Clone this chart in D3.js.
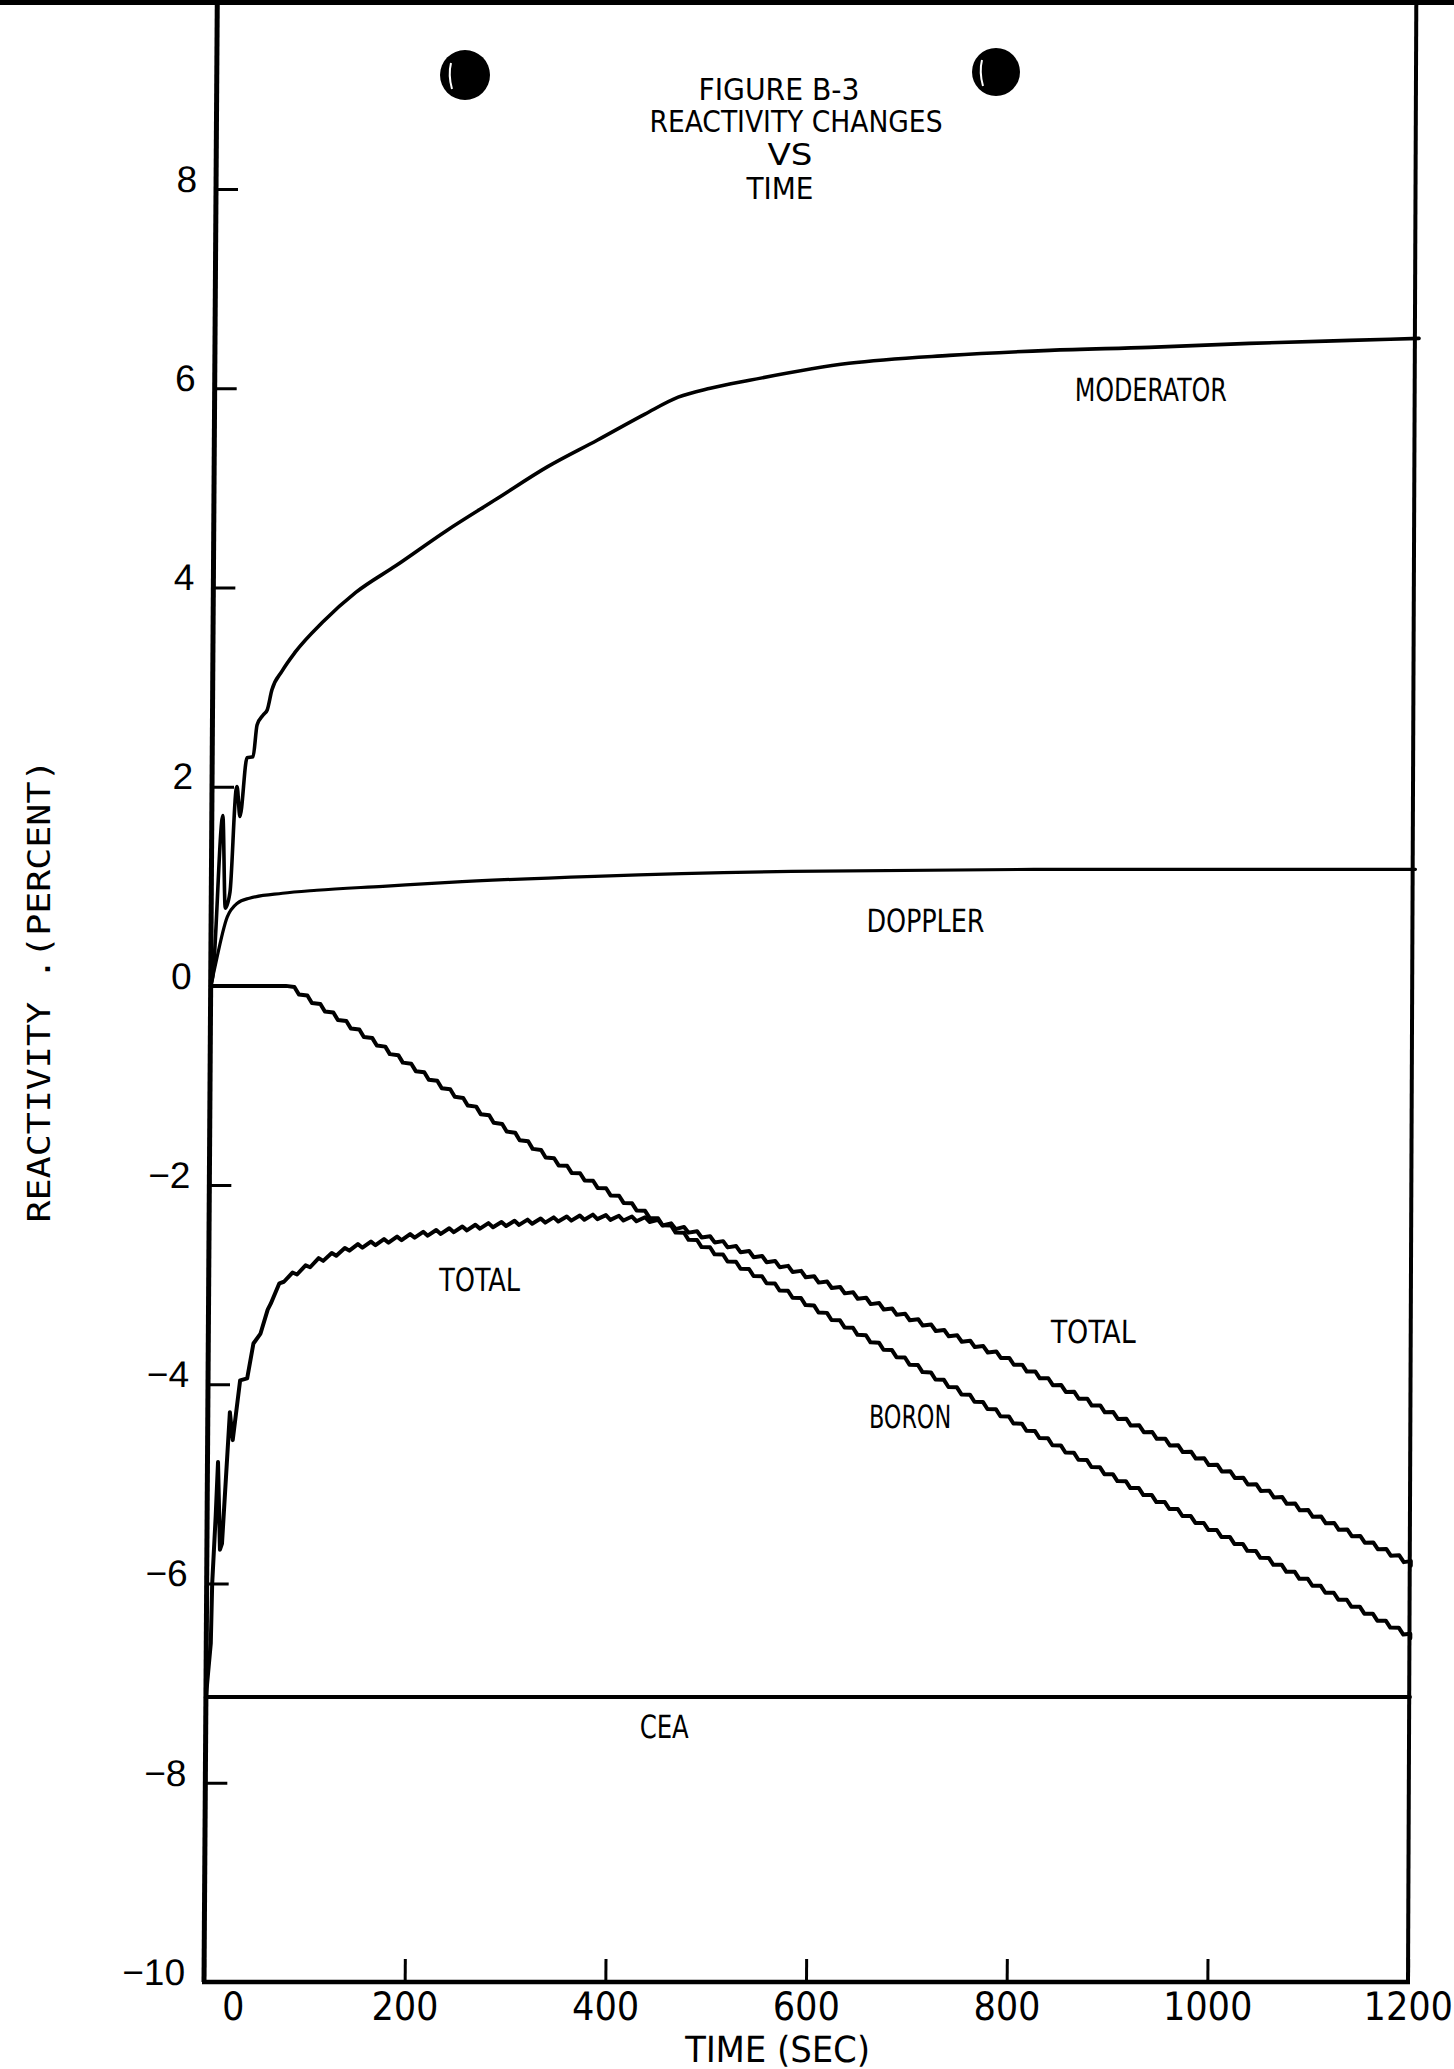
<!DOCTYPE html>
<html lang="en">
<head>
<meta charset="utf-8">
<title>Figure B-3 Reactivity Changes vs Time</title>
<script src="https://d3js.org/d3.v7.min.js"></script>
<style>
  body { margin: 0; background: #fff; }
  svg { display: block; }
  .plot text { fill: #000; }
</style>
</head>
<body>
<script>
// time (sec) vs reactivity (percent)
var moderator = [[0, 0], [2, 0.09], [11, 1.71], [14, 0.78], [18.6, 0.94], [24, 1.97], [25, 2.0],
  [28, 1.70], [34.7, 2.29], [40.7, 2.30], [44.5, 2.62], [50.5, 2.72], [54.5, 2.77], [59, 2.97],
  [69, 3.16], [82, 3.35], [109, 3.65], [142, 3.95], [182, 4.22], [232, 4.57], [282, 4.89],
  [332, 5.21], [382, 5.48], [429, 5.74], [462, 5.91], [494, 6.0], [533, 6.08], [632, 6.25],
  [732, 6.33], [832, 6.38], [931, 6.41], [1031, 6.45], [1131, 6.48], [1200, 6.50]];

var doppler = [[0, 0], [2, 0.09], [16, 0.69], [26, 0.83], [38, 0.88], [71, 0.93], [105, 0.96],
  [171, 1.00], [237, 1.04], [382, 1.10], [578, 1.15], [841, 1.17], [1200, 1.17]];

var boron = [[0, 0], [75, 0], [239, -1.08], [339, -1.75], [446, -2.37], [589, -3.17],
  [756, -4.13], [890, -4.88], [1200, -6.55]];

var total = [[0, -7.14], [2, -6.9], [4.5, -6.6], [5.5, -6.0], [8.5, -5.33], [10.5, -4.78],
  [13, -5.66], [15, -5.6], [22, -4.28], [25, -4.56], [32, -3.96], [39, -3.94], [45, -3.59],
  [52, -3.49], [59, -3.25], [69, -3.05], [75, -2.97], [109, -2.78], [142, -2.65], [209, -2.52],
  [275, -2.43], [342, -2.37], [384, -2.34], [439, -2.37], [479, -2.48], [589, -2.90],
  [789, -3.73], [890, -4.26], [970, -4.67], [1200, -5.82]];

var cea = [[0, -7.14], [1200, -7.14]];

var xTicks = [0, 200, 400, 600, 800, 1000, 1200];
var yTicks = [-10, -8, -6, -4, -2, 0, 2, 4, 6, 8];
var titleLines = ["FIGURE B-3", "REACTIVITY CHANGES", "VS", "TIME"];
var xTitle = "TIME (SEC)";
var yTitle = "REACTIVITY .(PERCENT)";

var w = 1454, h = 2069;
var narrow = "'Liberation Sans Narrow', 'DejaVu Sans Condensed', 'Liberation Sans', sans-serif";

var svg = d3.select("body")
    .append("svg")
    .attr("width", w)
    .attr("height", h);

svg.append("rect").attr("width", w).attr("height", h).attr("fill", "#fff");

// scale
var x = d3.scaleLinear().domain([0, 1200]).range([204, 1408]);
var y = d3.scaleLinear().domain([-10, 8]).range([1982, 189]);

// the scanned page is slightly sheared, lean the whole plot with it
var plot = svg.append("g")
    .attr("class", "plot")
    .attr("transform", "translate(0,1982) skewX(-0.384) translate(0,-1982)");

// frame
plot.append("line")
    .attr("x1", x(0)).attr("x2", x(0)).attr("y1", -10).attr("y2", y(-10))
    .attr("stroke", "#000").attr("stroke-width", 5);
plot.append("line")
    .attr("x1", x(1200)).attr("x2", x(1200) - 5).attr("y1", y(-10)).attr("y2", -10)
    .attr("stroke", "#000").attr("stroke-width", 4);
plot.append("line")
    .attr("x1", x(0) - 2).attr("x2", x(1200) + 2).attr("y1", y(-10)).attr("y2", y(-10))
    .attr("stroke", "#000").attr("stroke-width", 4.5);

// axes
var xAxis = plot.append("g")
    .attr("transform", "translate(0," + y(-10) + ")")
    .call(d3.axisBottom(x).tickValues(xTicks).tickFormat(d3.format("d"))
        .tickSizeInner(-23).tickSizeOuter(0).tickPadding(38));
xAxis.select(".domain").remove();
xAxis.selectAll("line").attr("stroke-width", 3);
xAxis.selectAll("text")
    .attr("dy", "0")
    .attr("dx", function(d) { return d === 0 ? 29 : 0; })
    .style("font-family", narrow)
    .style("font-size", "39px");

var yAxis = plot.append("g")
    .attr("transform", "translate(" + x(0) + ",0)")
    .call(d3.axisLeft(y).tickValues(yTicks).tickSizeInner(-22).tickSizeOuter(0).tickPadding(19));
yAxis.select(".domain").remove();
yAxis.selectAll("line").attr("stroke-width", 3);
yAxis.selectAll("text")
    .attr("dy", "0.06em")
    .style("font-family", "'Liberation Sans', Arial, sans-serif")
    .style("font-size", "37px");

// stepped trace: the slow ramps were plotted as small teeth
function curveTeeth(fromX, period, amp) {
  return function(context) {
    var pts;
    return {
      areaStart: function() {},
      areaEnd: function() {},
      lineStart: function() { pts = []; },
      point: function(px, py) { pts.push([+px, +py]); },
      lineEnd: function() {
        var at = function(px) {
          for (var i = 1; i < pts.length; i++) {
            if (px <= pts[i][0]) {
              var a = pts[i - 1], b = pts[i];
              return a[1] + (b[1] - a[1]) * (px - a[0]) / (b[0] - a[0]);
            }
          }
          return pts[pts.length - 1][1];
        };
        var end = pts[pts.length - 1][0];
        context.moveTo(pts[0][0], pts[0][1]);
        pts.forEach(function(p, i) {
          if (i > 0 && p[0] < fromX) context.lineTo(p[0], p[1]);
        });
        context.lineTo(fromX, at(fromX));
        for (var x0 = fromX; x0 < end - 0.5; x0 += period) {
          var xm = Math.min(x0 + 0.65 * period, end), x1 = Math.min(x0 + period, end);
          context.lineTo(xm, at(xm) - amp);
          context.lineTo(x1, at(x1));
        }
      }
    };
  };
}

var step = x(13) - x(0);

function tracer(curve) {
  return d3.line()
      .x(function(d) { return x(d[0]); })
      .y(function(d) { return y(d[1]); })
      .curve(curve);
}

var traces = [
  { data: moderator, line: tracer(d3.curveMonotoneX), width: 3.6 },
  { data: doppler, line: tracer(d3.curveMonotoneX), width: 3.2 },
  { data: boron, line: tracer(curveTeeth(x(75), step, 4.5)), width: 4 },
  { data: total, line: tracer(curveTeeth(x(62), step, 4.5)), width: 4 },
  { data: cea, line: tracer(d3.curveLinear), width: 4 }
];

plot.selectAll("path.trace")
    .data(traces)
    .enter()
    .append("path")
    .attr("class", "trace")
    .attr("d", function(d) { return d.line(d.data); })
    .attr("fill", "none")
    .attr("stroke", "#000")
    .attr("stroke-width", function(d) { return d.width; })
    .attr("stroke-linejoin", "round")
    .attr("stroke-linecap", "round");

// curve names, anchored in data units
var names = [
  { text: "MODERATOR", t: 933, v: 5.87, len: 152 },
  { text: "DOPPLER", t: 712, v: 0.54, len: 118 },
  { text: "TOTAL", t: 270, v: -3.06, len: 81 },
  { text: "TOTAL", t: 882, v: -3.59, len: 85 },
  { text: "BORON", t: 700, v: -4.44, len: 82 },
  { text: "CEA", t: 457, v: -7.55, len: 49 }
];

plot.selectAll("text.name")
    .data(names)
    .enter()
    .append("text")
    .attr("class", "name")
    .attr("x", function(d) { return x(d.t); })
    .attr("y", function(d) { return y(d.v); })
    .attr("text-anchor", "middle")
    .attr("textLength", function(d) { return d.len; })
    .attr("lengthAdjust", "spacingAndGlyphs")
    .style("font-family", narrow)
    .style("font-size", "32px")
    .text(function(d) { return d.text; });

// axis titles
plot.append("text")
    .attr("x", 778)
    .attr("y", 2062)
    .attr("text-anchor", "middle")
    .attr("textLength", 185)
    .attr("lengthAdjust", "spacingAndGlyphs")
    .style("font-family", narrow)
    .style("font-size", "36px")
    .text(xTitle);

svg.append("text")
    .attr("transform", "translate(50,991) rotate(-90)")
    .attr("text-anchor", "middle")
    .attr("textLength", 463)
    .attr("lengthAdjust", "spacingAndGlyphs")
    .style("font-family", "'DejaVu Sans Mono', monospace")
    .style("font-size", "32px")
    .text(yTitle);

// title block
var titleX = [779, 796, 790, 780], titleY = [100, 132, 165, 199], titleLen = [161, 293, 45, 67];
svg.selectAll("text.title")
    .data(titleLines)
    .enter()
    .append("text")
    .attr("class", "title")
    .attr("x", function(d, i) { return titleX[i]; })
    .attr("y", function(d, i) { return titleY[i]; })
    .attr("text-anchor", "middle")
    .attr("textLength", function(d, i) { return titleLen[i]; })
    .attr("lengthAdjust", "spacingAndGlyphs")
    .style("font-family", narrow)
    .style("font-size", "31px")
    .text(function(d) { return d; });

// top edge of the sheet and the two punch holes
svg.append("rect").attr("x", 0).attr("y", 0).attr("width", w).attr("height", 5).attr("fill", "#000");

var holes = svg.selectAll("g.hole")
    .data([[465, 75, 25], [996, 72, 24]])
    .enter()
    .append("g")
    .attr("class", "hole");
holes.append("circle")
    .attr("cx", function(d) { return d[0]; })
    .attr("cy", function(d) { return d[1]; })
    .attr("r", function(d) { return d[2]; })
    .attr("fill", "#000");
holes.append("path")
    .attr("d", function(d) {
      return "M" + (d[0] - 14) + "," + (d[1] - 12) + " Q" + (d[0] - 17) + "," + d[1] + " " + (d[0] - 13) + "," + (d[1] + 14);
    })
    .attr("fill", "none")
    .attr("stroke", "#fff")
    .attr("stroke-width", 2);
</script>
</body>
</html>
